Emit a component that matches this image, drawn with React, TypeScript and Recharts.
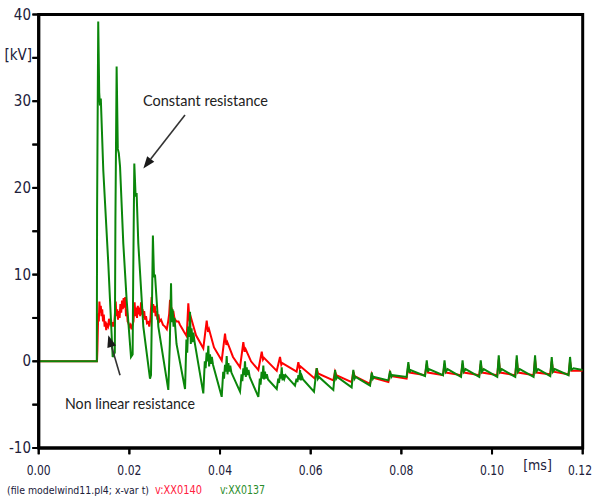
import React from 'react';
import { LineChart, Line, XAxis, YAxis, ReferenceArea, ReferenceLine } from 'recharts';

// time in ms, voltage in kV
const greenT = [
  0, 0.01282, 0.01288, 0.01313, 0.01335, 0.01352, 0.0137, 0.01425, 0.01535, 0.01632, 0.01679,
  0.01692, 0.01719, 0.01745, 0.01767, 0.01794, 0.01866, 0.01941, 0.02036, 0.02072,
  0.02085, 0.02109, 0.02138, 0.0216, 0.02197, 0.02308, 0.02455, 0.02477,
  0.02495, 0.02519, 0.02544, 0.02565, 0.02639, 0.02859,
  0.02892, 0.02919, 0.02936, 0.02954, 0.02974, 0.02996, 0.0304, 0.03228,
  0.03258, 0.03276, 0.03298, 0.03316, 0.03338, 0.03355, 0.03373, 0.03391, 0.03411, 0.03437, 0.03631,
  0.03664, 0.03682, 0.03704, 0.03722, 0.03742, 0.03759, 0.03779, 0.03797, 0.03819, 0.03845, 0.04037,
  0.0407, 0.04088, 0.0411, 0.04128, 0.04147, 0.04165, 0.04185, 0.04203, 0.04225, 0.04251, 0.04441,
  0.04474, 0.04492, 0.04514, 0.04531, 0.04551, 0.04569, 0.04589, 0.04606, 0.04628, 0.04655, 0.04845,
  0.04878, 0.04895, 0.04917, 0.04935, 0.04955, 0.04973, 0.04992, 0.0501, 0.05032, 0.05059, 0.05251,
  0.05284, 0.05301, 0.05323, 0.05341, 0.05361, 0.05379, 0.05398, 0.0542, 0.05445, 0.05654,
  0.05687, 0.05707, 0.05729, 0.05747, 0.05765, 0.05782, 0.05804, 0.05831, 0.06073,
  0.06133, 0.06159, 0.06182, 0.06499,
  0.06537, 0.06563, 0.06585, 0.06903,
  0.0694, 0.06967, 0.06989, 0.07309,
  0.07346, 0.07373, 0.07395, 0.07713,
  0.0775, 0.07777, 0.07799, 0.08116,
  0.08154, 0.0818, 0.08202, 0.08522,
  0.0856, 0.08586, 0.08608, 0.08919,
  0.08952, 0.08979, 0.09019, 0.09316,
  0.0935, 0.09376, 0.09416, 0.09718,
  0.09751, 0.09777, 0.09817, 0.10115,
  0.10148, 0.10175, 0.10214, 0.10512,
  0.10545, 0.10572, 0.10611, 0.10916,
  0.10949, 0.10975, 0.11015, 0.11284,
  0.11317, 0.11344, 0.11383, 0.11688,
  0.11721, 0.11747, 0.11798, 0.12,
];
const greenV = [
  0, 0, 17.5, 39.2, 31.0, 29.5, 30.3, 22.0, 11.3, 0.5, 1.0,
  16.0, 34.0, 24.5, 24.0, 22.5, 13.6, 7.0, 0.5, 0.8,
  10.0, 22.8, 19.0, 19.4, 13.6, 4.0, -2.0, -1.6,
  5.0, 14.5, 9.7, 10.0, 4.0, -3.3,
  2.0, 9.0, 4.5, 6.0, 4.0, 5.0, 2.0, -3.2,
  2.5, 1.0, 4.0, 2.8, 5.7, 2.0, 3.8, 2.2, 3.3, 2.3, -3.7,
  0.0, -0.8, 1.0, 0.0, 1.8, -0.6, 0.8, -0.3, 0.5, -0.4, -4.1,
  -1.2, -2.0, -0.4, -1.2, 0.6, -1.5, -0.2, -1.2, -0.5, -1.3, -3.5,
  -1.5, -2.3, -0.8, -1.6, 0.0, -1.8, -0.7, -1.6, -1.0, -1.8, -4.1,
  -2.0, -2.7, -1.2, -2.0, -0.5, -2.1, -1.2, -2.0, -1.5, -2.1, -3.2,
  -2.0, -2.5, -1.5, -2.0, -0.7, -2.2, -1.5, -2.0, -1.6, -2.8,
  -2.0, -2.4, -1.6, -2.1, -1.0, -2.2, -1.7, -2.1, -3.5,
  -0.8, -2.0, -1.8, -3.3,
  -1.0, -2.0, -1.8, -3.0,
  -1.0, -2.0, -1.8, -2.8,
  -1.3, -2.0, -1.8, -2.2,
  -1.1, -1.8, -1.6, -1.8,
  -0.1, -1.3, -1.0, -1.7,
  0.1, -1.2, -0.9, -1.6,
  0.1, -1.2, -0.9, -1.8,
  0.1, -1.2, -0.9, -1.8,
  0.1, -1.2, -0.9, -1.8,
  0.7, -1.2, -0.9, -1.8,
  0.7, -1.2, -0.9, -1.8,
  0.7, -1.2, -0.9, -1.7,
  0.5, -1.2, -0.9, -1.6,
  0.5, -1.0, -0.8, -1.0,
];
const redT = [
  0, 0.01286, 0.01295, 0.01313, 0.01326, 0.01339, 0.01355, 0.0137, 0.01385, 0.01401, 0.01419,
  0.01436, 0.01454, 0.01471, 0.01489, 0.01507, 0.01529, 0.01551, 0.01573, 0.01595, 0.01617,
  0.01639, 0.01661, 0.01683, 0.01699, 0.01714, 0.01732, 0.01749, 0.01767, 0.01785, 0.01802,
  0.0182, 0.01838, 0.01855, 0.01873, 0.01891, 0.01908, 0.01926, 0.01944, 0.01961, 0.01981,
  0.02003, 0.02025, 0.02047, 0.02069, 0.02091, 0.02116, 0.02133, 0.02151, 0.02169, 0.02186,
  0.02204, 0.02222, 0.02239, 0.02257, 0.02274, 0.02292, 0.0231, 0.02327, 0.02345, 0.02367,
  0.02389, 0.02416, 0.0244, 0.02466, 0.02491, 0.02508, 0.02526, 0.02544, 0.02561, 0.02579,
  0.02599, 0.02619, 0.02641, 0.02665, 0.02698, 0.02742, 0.02786, 0.02826, 0.02853, 0.02879,
  0.02897, 0.02914, 0.02932, 0.0295, 0.02969, 0.02996, 0.0304, 0.03084, 0.03117, 0.03161,
  0.03205, 0.03265,
  0.033, 0.03329, 0.03356, 0.0347, 0.03631,
  0.03706, 0.03735, 0.03757, 0.03867, 0.04037,
  0.0411, 0.04139, 0.04161, 0.04286, 0.04441,
  0.04514, 0.04542, 0.04564, 0.04684, 0.04845,
  0.0492, 0.04948, 0.0497, 0.05251,
  0.05323, 0.05352, 0.05374, 0.0569,
  0.05727, 0.05756, 0.05778, 0.06093,
  0.06133, 0.06162, 0.06499,
  0.06537, 0.06565, 0.06903,
  0.0694, 0.06969, 0.07309,
  0.07346, 0.07375, 0.07713,
  0.0775, 0.07779, 0.08116,
  0.08154, 0.08183, 0.08522,
  0.0856, 0.08588, 0.08919,
  0.08952, 0.08985, 0.09316,
  0.0935, 0.09383, 0.09718,
  0.09751, 0.09784, 0.10115,
  0.10148, 0.10181, 0.10512,
  0.10545, 0.10578, 0.10916,
  0.10949, 0.10982, 0.11284,
  0.11317, 0.1135, 0.11688,
  0.11721, 0.11754, 0.12,
];
const redV = [
  0, 0, 1.3, 5.5, 4.6, 6.9, 5.6, 6.4, 5.2, 6.0, 4.6,
  5.4, 4.0, 4.6, 3.6, 4.2, 4.0, 4.9, 4.4, 4.8, 4.0,
  4.5, 4.0, 5.6, 6.9, 5.2, 6.0, 4.8, 5.8, 5.0, 6.6,
  5.6, 7.0, 6.0, 7.3, 6.2, 7.4, 5.2, 6.0, 4.6, 4.4,
  4.0, 4.2, 3.7, 4.2, 4.6, 6.8, 5.2, 6.2, 5.0, 6.4,
  5.4, 6.2, 5.2, 6.8, 5.4, 6.0, 5.0, 5.8, 4.8, 5.2,
  4.4, 4.5, 4.0, 5.0, 7.4, 5.8, 6.6, 5.6, 6.4, 5.2,
  5.8, 4.8, 5.4, 4.6, 4.8, 4.2, 4.0, 3.7, 4.5, 5.5,
  7.1, 5.6, 6.2, 5.2, 5.8, 4.9, 4.6, 4.6, 4.2, 3.8,
  3.4, 2.9,
  6.7, 4.6, 5.1, 3.0, 1.5,
  4.7, 3.4, 3.7, 1.6, 0.1,
  3.2, 1.9, 2.2, 0.5, -0.7,
  2.2, 1.1, 1.4, 0.0, -1.0,
  1.1, 0.2, 0.4, -1.1,
  0.5, -0.4, -0.2, -1.2,
  -0.1, -0.8, -0.6, -2.0,
  -0.8, -1.4, -2.2,
  -1.2, -1.6, -2.4,
  -1.2, -1.7, -2.6,
  -1.5, -1.9, -2.4,
  -1.3, -1.7, -2.0,
  -0.4, -1.3, -1.6,
  -0.3, -1.3, -1.6,
  -0.3, -1.3, -1.6,
  -0.3, -1.3, -1.6,
  -0.3, -1.3, -1.6,
  0.2, -1.3, -1.6,
  0.2, -1.3, -1.6,
  0.2, -1.3, -1.5,
  0.0, -1.2, -1.5,
  0.0, -1.1, -1.1,
];

const xTicks = [0, 0.02, 0.04, 0.06, 0.08, 0.1, 0.12];
const yTicks = [-10, -5, 0, 5, 10, 15, 20, 25, 30, 35, 40];
const yLabelled = [-10, 0, 10, 20, 30, 40];
const yUnit = '[kV]';
const yUnitAt = 35;
const xUnit = '[ms]';
const footerText = '(file modelwind11.pl4; x-var t)';
const redName = 'v:XX0140';
const greenName = 'v:XX0137';
const constLabel = 'Constant resistance';
const nonlinLabel = 'Non linear resistance';
// arrow segments in data coords (tail -> tip)
const constArrow = [{ x: 0.03227, y: 28.4 }, { x: 0.02308, y: 22.25 }];
const nonlinArrow = [{ x: 0.01794, y: -1.6 }, { x: 0.01535, y: 3.0 }];

const greenData = greenT.map((t, i) => ({ t, v: greenV[i] }));
const redData = redT.map((t, i) => ({ t, v: redV[i] }));

const NARROW = '"Liberation Sans Narrow", "Arial Narrow", "DejaVu Sans Condensed", sans-serif';
const LABEL_COLOR = '#20203a';
const PLOT_LEFT = 38.7;
const PLOT_BOTTOM = 448;
const CHART_W = 595;

const YTick = (p: any) => {
  const v = p.payload.value;
  const mark = <line x1={PLOT_LEFT - 6.5} x2={PLOT_LEFT} y1={p.y} y2={p.y} stroke="#000" strokeWidth={2} />;
  if (v === yUnitAt) {
    return (
      <g>
        {mark}
        <text x={32} y={p.y + 2} textAnchor="end" fontFamily={NARROW} fontSize={15} fill={LABEL_COLOR}>
          {yUnit}
        </text>
      </g>
    );
  }
  if (!yLabelled.includes(v)) return <g>{mark}</g>;
  return (
    <g>
      {mark}
      <text x={31} y={p.y + 5} textAnchor="end" fontFamily={NARROW} fontSize={15} fill={LABEL_COLOR}>
        {String(v)}
      </text>
    </g>
  );
};

const XTick = (p: any) => {
  const v = p.payload.value;
  const lx = Math.min(p.x, CHART_W - 15);
  return (
    <g>
      <line x1={p.x} x2={p.x} y1={PLOT_BOTTOM} y2={PLOT_BOTTOM + 6.5} stroke="#000" strokeWidth={2} />
      <text x={lx} y={475} textAnchor="middle" fontFamily={NARROW} fontSize={14} fill={LABEL_COLOR} textLength={24} lengthAdjust="spacingAndGlyphs">
        {v.toFixed(2)}
      </text>
    </g>
  );
};

const arrowShape = (p: any) => {
  const { x1, y1, x2, y2 } = p;
  const ang = Math.atan2(y2 - y1, x2 - x1);
  const L = 12;
  const W = 4.5;
  const bx = x2 - L * Math.cos(ang);
  const by = y2 - L * Math.sin(ang);
  const px = -Math.sin(ang) * W;
  const py = Math.cos(ang) * W;
  return (
    <g>
      <line x1={x1} y1={y1} x2={bx} y2={by} stroke="#333" strokeWidth={1.6} />
      <polygon points={`${x2},${y2} ${bx + px},${by + py} ${bx - px},${by - py}`} fill="#1a1a1a" />
    </g>
  );
};

export default function App() {
  return (
    <div style={{ position: 'fixed', left: 0, top: 0, width: 595, height: 502, background: '#fff' }}>
      <LineChart width={595} height={502} margin={{ top: 14.5, right: 12.3, left: 0, bottom: 0 }}>
        <XAxis
          type="number"
          dataKey="t"
          domain={[0, 0.12]}
          ticks={xTicks}
          interval={0}
          allowDataOverflow
          height={54}
          tickSize={6}
          tickLine={{ stroke: '#000', strokeWidth: 2 }}
          axisLine={{ stroke: '#000', strokeWidth: 3 }}
          tick={<XTick />}
        />
        <YAxis
          type="number"
          domain={[-10, 40]}
          ticks={yTicks}
          interval={0}
          allowDataOverflow
          width={38.7}
          tickSize={6}
          tickLine={{ stroke: '#000', strokeWidth: 2 }}
          axisLine={{ stroke: '#000', strokeWidth: 3 }}
          tick={<YTick />}
        />
        <ReferenceArea x1={0} x2={0.12} y1={-10} y2={40} fill="none" stroke="#000" strokeWidth={3} ifOverflow="visible" />
        <Line data={redData} dataKey="v" type="linear" stroke="#ff0000" strokeWidth={2} dot={false} isAnimationActive={false} />
        <Line data={greenData} dataKey="v" type="linear" stroke="#0a860a" strokeWidth={2} dot={false} isAnimationActive={false} />
        <ReferenceLine segment={constArrow} ifOverflow="visible" shape={arrowShape} />
        <ReferenceLine segment={nonlinArrow} ifOverflow="visible" shape={arrowShape} />
      </LineChart>
      <svg width={595} height={502} style={{ position: 'absolute', left: 0, top: 0, pointerEvents: 'none' }}>
        <text x={143} y={106} fontFamily="Lato, 'Noto Sans', sans-serif" fontSize={16} fill="#222" textLength={125} lengthAdjust="spacingAndGlyphs">
          {constLabel}
        </text>
        <text x={65} y={409} fontFamily="Lato, 'Noto Sans', sans-serif" fontSize={16} fill="#222" textLength={130} lengthAdjust="spacingAndGlyphs">
          {nonlinLabel}
        </text>
        <text x={537.5} y={470} textAnchor="middle" fontFamily={NARROW} fontSize={14} fill={LABEL_COLOR}>
          {xUnit}
        </text>
        <text x={7} y={494} fontFamily={NARROW} fontSize={11} fill={LABEL_COLOR} textLength={142} lengthAdjust="spacingAndGlyphs">
          {footerText}
        </text>
        <text x={155} y={494} fontFamily={NARROW} fontSize={12} fill="#ff2040" textLength={47} lengthAdjust="spacingAndGlyphs">
          {redName}
        </text>
        <text x={220} y={494} fontFamily={NARROW} fontSize={12} fill="#2a8c2a" textLength={45} lengthAdjust="spacingAndGlyphs">
          {greenName}
        </text>
      </svg>
    </div>
  );
}
